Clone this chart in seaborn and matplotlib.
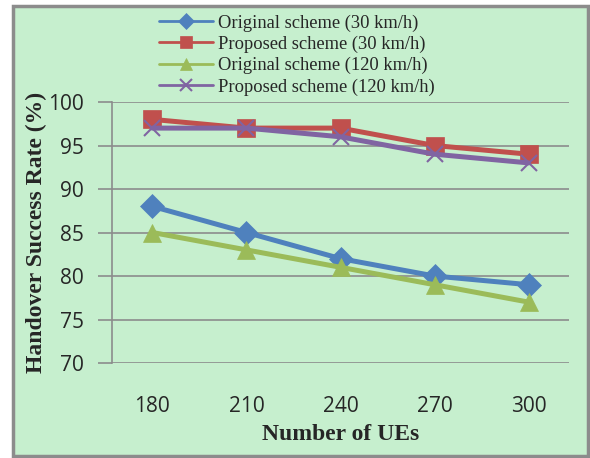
import numpy as np
import pandas as pd
import seaborn as sns
import matplotlib.pyplot as plt
from matplotlib.patches import Rectangle

# data
num_ues = ["180", "210", "240", "270", "300"]
orig_30 = [88, 85, 82, 80, 79]
prop_30 = [98, 97, 97, 95, 94]
orig_120 = [85, 83, 81, 79, 77]
prop_120 = [97, 97, 96, 94, 93]

series_names = [
    "Original scheme (30 km/h)",
    "Proposed scheme (30 km/h)",
    "Original scheme (120 km/h)",
    "Proposed scheme (120 km/h)",
]
colors = ["#4F81BD", "#C0504D", "#9BBB59", "#8064A2"]
markers = ["D", "s", "^", "x"]
msizes = [12, 13, 13, 11]

rows = []
for name, vals in zip(series_names, [orig_30, prop_30, orig_120, prop_120]):
    for i, v in enumerate(vals):
        rows.append({"pos": i, "rate": v, "series": name})
df = pd.DataFrame(rows)

sns.set_style("white")
bg = "#C6EFCE"

fig = plt.figure(figsize=(5.9, 4.58), dpi=100)
fig.patch.set_facecolor("white")
# green chart area with grey border (drawn behind the axes)
fig.patches.append(Rectangle((13 / 590, 2 / 458), 575 / 590, 450 / 458,
                             transform=fig.transFigure, facecolor=bg,
                             edgecolor="#8C8C8C", linewidth=2.5, zorder=-10))

ax = fig.add_axes([112 / 590, 95 / 458, 457 / 590, 261 / 458])
ax.set_facecolor(bg)

for name, c, m, ms in zip(series_names, colors, markers, msizes):
    sub = df[df["series"] == name]
    sns.lineplot(data=sub, x="pos", y="rate", ax=ax, color=c, linewidth=3.6,
                 marker=m, markersize=ms, markeredgecolor=c,
                 markeredgewidth=1.5 if m == "x" else 0.5, label=name,
                 sort=False)

ax.set_xlim(-0.43, 4.43)
ax.set_ylim(70, 100)
ax.set_yticks(np.arange(70, 101, 5))
ax.set_xticks(range(len(num_ues)))
ax.set_xticklabels(num_ues)

ax.yaxis.grid(True, color="#8C8C8C", linewidth=1.2)
ax.set_axisbelow(True)
for s in ["top", "right", "bottom"]:
    ax.spines[s].set_visible(False)
ax.spines["left"].set_color("#8C8C8C")
ax.spines["left"].set_linewidth(1.2)

ax.tick_params(axis="y", which="major", direction="out", length=10,
               width=1.2, color="#8C8C8C", pad=10, labelsize=15,
               labelcolor="#262626", left=True)
ax.tick_params(axis="x", length=0, pad=24, labelsize=15, labelcolor="#262626")
for lab in ax.get_xticklabels() + ax.get_yticklabels():
    lab.set_family("Open Sans")

ax.set_xlabel("Number of UEs", family="Liberation Serif", fontweight="bold",
              fontsize=17, labelpad=5)
ax.set_ylabel("Handover Success Rate (%)", family="Liberation Serif",
              fontweight="bold", fontsize=17, labelpad=1)

leg = ax.legend(loc="upper center", bbox_to_anchor=(297 / 590, 0.997),
                bbox_transform=fig.transFigure, frameon=False,
                prop={"family": "Liberation Serif", "size": 13.3},
                labelspacing=0.22, handlelength=2.9, handletextpad=0.3,
                borderpad=0.2)
for line in leg.get_lines():
    line.set_linewidth(2)
    line.set_markersize(8)

plt.savefig("out.png", dpi=100, facecolor=fig.get_facecolor())
